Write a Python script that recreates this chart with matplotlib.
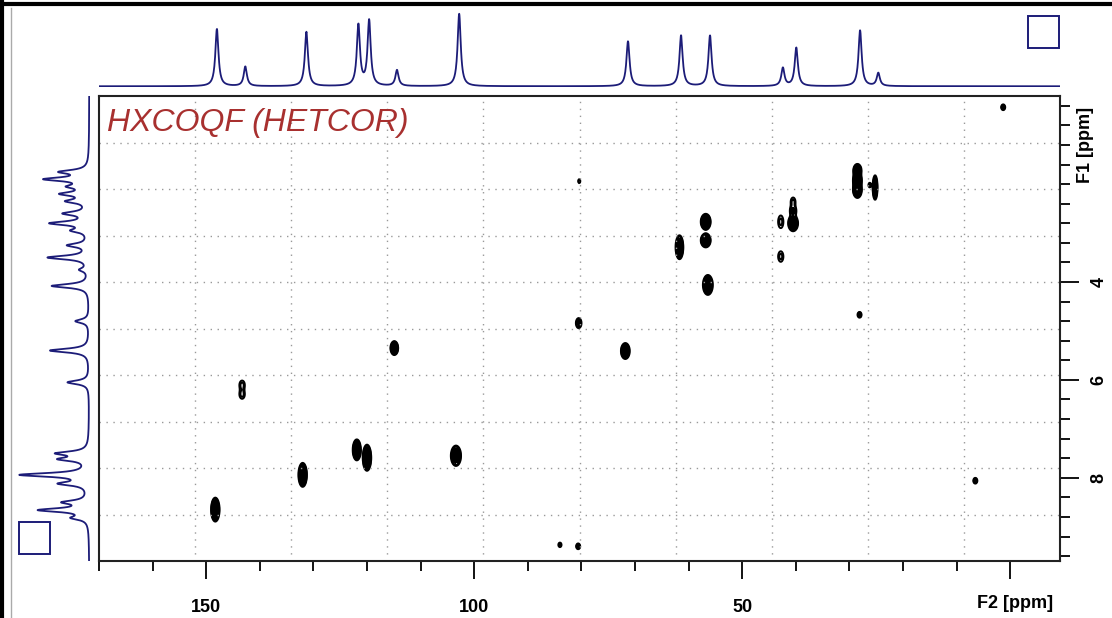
import numpy as np
import matplotlib.pyplot as plt
from matplotlib.patches import Rectangle
from matplotlib.lines import Line2D
from matplotlib.ticker import MultipleLocator, FixedLocator

plt.rcParams['font.family'] = ['Liberation Sans', 'DejaVu Sans']

# --- data -------------------------------------------------------------
# 13C projection (top): ppm, relative intensity
c13_ppm = [148.0, 142.7, 131.3, 121.6, 119.6, 114.4, 102.8, 71.3, 61.4, 56.0, 42.4, 39.9, 28.0, 24.6]
c13_int = [79, 27, 75, 84, 90, 22, 100, 62, 70, 70, 25, 53, 77, 18]

# 1H projection (left): ppm, relative intensity
h1_ppm = [1.75, 1.90, 2.05, 2.20, 2.35, 2.60, 2.80, 2.95, 3.25, 3.50, 3.75, 4.08, 4.80, 5.40, 6.05,
          7.50, 7.62, 7.94, 8.12, 8.50, 8.66, 8.82]
h1_int = [40, 62, 25, 38, 30, 35, 55, 22, 30, 60, 12, 55, 20, 58, 32,
          45, 40, 100, 40, 35, 72, 22]

# cross peaks: F2 (13C) ppm, F1 (1H) ppm, amplitude, width F2, width F1
cp_c = [148.3, 132.0, 121.9, 120.0, 103.4, 143.3, 143.3, 114.9, 80.4, 80.5, 71.8, 61.7, 56.8, 56.8, 56.4,
        42.8, 42.8, 40.5, 40.5, 40.5, 28.5, 28.5, 28.5, 26.2, 25.2, 28.1, 1.3, 6.5, 84.0, 80.6]
cp_h = [8.65, 7.94, 7.43, 7.59, 7.55, 6.10, 6.30, 5.35, 1.94, 4.84, 5.41, 3.29, 2.77, 3.15, 4.06,
        2.77, 3.48, 2.36, 2.55, 2.80, 1.72, 1.92, 2.12, 2.02, 2.07, 4.67, 0.43, 8.06, 9.37, 9.40]
cp_amp = [12, 12, 10, 12, 6, 1.8, 1.8, 8, 1.4, 3, 8, 8, 8, 8, 8,
          1.8, 1.8, 1.8, 3, 8, 6, 8, 8, 1.6, 5, 3, 3, 3, 2, 3]
cp_wc = [0.35, 0.35, 0.35, 0.35, 0.5, 0.45, 0.45, 0.35, 0.25, 0.35, 0.4, 0.35, 0.45, 0.45, 0.45,
         0.45, 0.45, 0.4, 0.4, 0.45, 0.4, 0.4, 0.4, 0.25, 0.25, 0.25, 0.25, 0.25, 0.25, 0.25]
cp_wh = [0.11, 0.11, 0.10, 0.12, 0.11, 0.08, 0.08, 0.07, 0.05, 0.07, 0.08, 0.12, 0.08, 0.07, 0.10,
         0.12, 0.10, 0.08, 0.07, 0.08, 0.07, 0.08, 0.08, 0.05, 0.14, 0.04, 0.04, 0.04, 0.04, 0.04]

f2_lim = (170, -9.3)
f1_lim = (9.7, 0.2)

# --- figure -----------------------------------------------------------
W, H = 1112, 618
fig = plt.figure(figsize=(W / 100, H / 100), dpi=100)


def box(x0, y0, x1, y1):
    return [x0 / W, 1 - y1 / H, (x1 - x0) / W, (y1 - y0) / H]


navy = '#1c1c78'

ax = fig.add_axes(box(99, 96, 1060, 561))
axt = fig.add_axes(box(99, 8, 1060, 87))
axl = fig.add_axes(box(12, 96, 90, 561))

# contour plot: filled cores, outlined low levels
xg = np.linspace(f2_lim[1], f2_lim[0], 1100)
yg = np.linspace(f1_lim[1], f1_lim[0], 700)
X, Y = np.meshgrid(xg, yg)
Z = np.zeros_like(X)
for c, h, a, wc, wh in zip(cp_c, cp_h, cp_amp, cp_wc, cp_wh):
    Z += a * np.exp(-0.5 * ((X - c) / wc) ** 2 - 0.5 * ((Y - h) / wh) ** 2)
ax.contourf(X, Y, Z, levels=[2.4, 1e6], colors='k')
ax.contour(X, Y, Z, levels=[1.0, 1.5], colors='k', linewidths=1.4)

ax.set_xlim(*f2_lim)
ax.set_ylim(*f1_lim)

# 10 x 10 dotted grid
for i in range(1, 10):
    ax.plot([i / 10, i / 10], [0, 1], transform=ax.transAxes, ls=(0, (1, 4)), color='#999999', lw=1)
    ax.plot([0, 1], [i / 10, i / 10], transform=ax.transAxes, ls=(0, (1, 4)), color='#999999', lw=1)

for s in ax.spines.values():
    s.set_linewidth(1.5)
    s.set_color('#222222')

ax.xaxis.set_major_locator(FixedLocator([150, 100, 50, 0]))
ax.xaxis.set_minor_locator(MultipleLocator(10))
ax.set_xticklabels(['150', '100', '50', ''])
ax.tick_params(axis='x', which='major', direction='out', length=13, width=1.3, pad=14,
               labelsize=13)
ax.tick_params(axis='x', which='minor', direction='out', length=7, width=1.3)
for t in ax.get_xticklabels():
    t.set_fontweight('bold')

ax.yaxis.tick_right()
ax.yaxis.set_major_locator(FixedLocator([4, 6, 8]))
ax.yaxis.set_minor_locator(MultipleLocator(0.4))
ax.set_yticklabels(['4', '6', '8'])
ax.tick_params(axis='y', which='major', direction='out', length=14, width=1.3, pad=8,
               labelsize=13, labelrotation=90)
ax.tick_params(axis='y', which='minor', direction='out', length=7, width=1.3)
for t in ax.get_yticklabels():
    t.set_fontweight('bold')
    t.set_va('center')

fig.text(1053 / W, 1 - 603 / H, 'F2 [ppm]', ha='right', va='center', fontsize=13, fontweight='bold')
fig.text(1086 / W, 1 - 145 / H, 'F1 [ppm]', ha='center', va='center', fontsize=13,
         fontweight='bold', rotation=90)

ax.text(0.008, 0.943, 'HXCOQF (HETCOR)', transform=ax.transAxes, ha='left', va='center',
        fontsize=23, style='italic', color='#a8302f')

# top projection (13C)
xs = np.linspace(f2_lim[1], f2_lim[0], 4000)
top = np.zeros_like(xs)
for p, i in zip(c13_ppm, c13_int):
    top += i / (1 + ((xs - p) / 0.35) ** 2)
axt.plot(xs, top, color=navy, lw=1.3)
axt.set_xlim(*f2_lim)
axt.set_ylim(-1, 108)
axt.axis('off')

# left projection (1H)
ys = np.linspace(f1_lim[1], f1_lim[0], 3000)
left = np.zeros_like(ys)
for p, i in zip(h1_ppm, h1_int):
    left += i / (1 + ((ys - p) / 0.045) ** 2)
axl.plot(left, ys, color=navy, lw=1.3)
axl.set_ylim(*f1_lim)
axl.set_xlim(115, -1)
axl.axis('off')

# corner boxes and outer border
fig.patches.append(Rectangle((1028 / W, 1 - 48 / H), 31 / W, 32 / H, transform=fig.transFigure,
                             fill=False, ec=navy, lw=1.4))
fig.patches.append(Rectangle((19 / W, 1 - 554 / H), 31 / W, 32 / H, transform=fig.transFigure,
                             fill=False, ec=navy, lw=1.4))
fig.lines.append(Line2D([2 / W, 2 / W], [0, 1], transform=fig.transFigure, color='k', lw=3))
fig.lines.append(Line2D([0, 1], [1 - 4 / H, 1 - 4 / H], transform=fig.transFigure, color='k', lw=3))
fig.lines.append(Line2D([11 / W, 11 / W], [0, 1 - 8 / H], transform=fig.transFigure, color='#aaaaaa', lw=1))

fig.savefig('out.png', dpi=100, facecolor='white')
